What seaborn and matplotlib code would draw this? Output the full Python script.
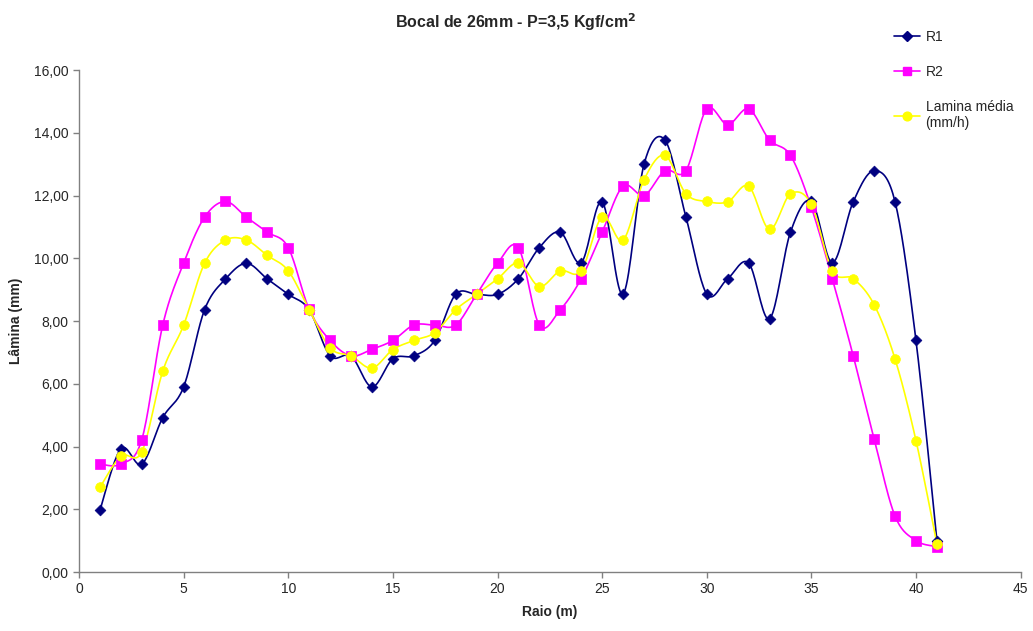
import numpy as np
import pandas as pd
import matplotlib
matplotlib.use("Agg")
import matplotlib.pyplot as plt
import seaborn as sns
from matplotlib.lines import Line2D
from matplotlib.ticker import FuncFormatter, MultipleLocator

# ================= dados =================
raio = list(range(1, 42))
r1 = [1.97, 3.93, 3.44, 4.92, 5.90, 8.36, 9.34, 9.84, 9.34, 8.85,
      8.36, 6.89, 6.89, 5.90, 6.80, 6.89, 7.38, 8.85, 8.85, 8.85,
      9.35, 10.34, 10.83, 9.86, 11.80, 8.86, 12.99, 13.77, 11.33, 8.86,
      9.35, 9.85, 8.07, 10.83, 11.82, 9.86, 11.80, 12.79, 11.80, 7.38,
      1.00]
r2 = [3.44, 3.44, 4.22, 7.87, 9.85, 11.31, 11.81, 11.31, 10.83, 10.34,
      8.37, 7.38, 6.89, 7.10, 7.38, 7.87, 7.87, 7.87, 8.85, 9.84,
      10.34, 7.87, 8.36, 9.35, 10.83, 12.30, 12.00, 12.79, 12.79, 14.76,
      14.26, 14.76, 13.77, 13.28, 11.62, 9.35, 6.89, 4.24, 1.78, 1.00,
      0.81]
lamina = [2.70, 3.69, 3.83, 6.40, 7.87, 9.84, 10.58, 10.58, 10.09, 9.60,
          8.36, 7.14, 6.89, 6.50, 7.09, 7.38, 7.63, 8.36, 8.85, 9.34,
          9.85, 9.10, 9.60, 9.60, 11.32, 10.58, 12.50, 13.28, 12.06, 11.81,
          11.80, 12.30, 10.92, 12.05, 11.72, 9.60, 9.35, 8.52, 6.79, 4.19,
          0.90]
series_names = ["R1", "R2", "Lamina média\n(mm/h)"]
series_colors = ["#000080", "#FF00FF", "#FFFF00"]
series_markers = ["D", "s", "o"]
series_msize = [5.5, 7, 7]
# ========================================


def smooth(x, y, n=20):
    """curva suavizada estilo Excel (Catmull-Rom)"""
    x = np.asarray(x, float)
    y = np.asarray(y, float)
    px = np.concatenate([[x[0]], x, [x[-1]]])
    py = np.concatenate([[y[0]], y, [y[-1]]])
    xs, ys = [], []
    for i in range(1, len(px) - 2):
        p0, p1, p2, p3 = (np.array([px[j], py[j]]) for j in (i - 1, i, i + 1, i + 2))
        c1 = p1 + (p2 - p0) / 6
        c2 = p2 - (p3 - p1) / 6
        t = np.linspace(0, 1, n)[:, None]
        b = ((1 - t) ** 3) * p1 + 3 * ((1 - t) ** 2) * t * c1 + 3 * (1 - t) * t ** 2 * c2 + t ** 3 * p2
        xs.extend(b[:, 0])
        ys.extend(b[:, 1])
    return np.array(xs), np.array(ys)


sns.set_style("white")
plt.rcParams["font.family"] = ["Liberation Sans", "DejaVu Sans"]

fig = plt.figure(figsize=(10.33, 6.31), dpi=100)
ax = fig.add_axes([0.0765, 0.0935, 0.9115, 0.7955])

handles = []
for name, vals, col, mk, ms in zip(series_names, [r1, r2, lamina], series_colors,
                                   series_markers, series_msize):
    sx, sy = smooth(raio, vals)
    curve = pd.DataFrame({"x": sx, "y": sy})
    sns.lineplot(data=curve, x="x", y="y", sort=False, estimator=None, color=col,
                 linewidth=1.2, ax=ax)
    pts = pd.DataFrame({"Raio": raio, "Lamina": vals})
    sns.scatterplot(data=pts, x="Raio", y="Lamina", marker=mk, color=col,
                    s=ms ** 2, edgecolor=col, linewidth=0.5, ax=ax, zorder=3)
    handles.append(Line2D([0], [0], color=col, marker=mk, markersize=ms * 0.9,
                          linewidth=1.2, label=name))

ax.set_xlim(0, 45)
ax.set_ylim(0, 16)
ax.xaxis.set_major_locator(MultipleLocator(5))
ax.yaxis.set_major_locator(MultipleLocator(2))
ax.yaxis.set_major_formatter(FuncFormatter(lambda v, p: f"{v:.2f}".replace(".", ",")))

for s in ["top", "right"]:
    ax.spines[s].set_visible(False)
for s in ["left", "bottom"]:
    ax.spines[s].set_color("#808080")
    ax.spines[s].set_linewidth(1.0)
ax.tick_params(axis="both", direction="out", length=4, width=1, color="#808080",
               labelsize=10, left=True, bottom=True)

ax.set_xlabel("Raio (m)", fontsize=10, fontweight="bold", labelpad=6)
ax.set_ylabel("Lâmina (mm)", fontsize=10, fontweight="bold", labelpad=8)
fig.text(0.499, 0.965, "Bocal de 26mm - P=3,5 Kgf/cm$^\\mathbf{2}$", ha="center",
         va="center", fontsize=11.5, fontweight="bold")

fig.legend(handles=handles, loc="upper left", bbox_to_anchor=(0.853, 0.972),
           frameon=False, fontsize=10, labelspacing=1.5, handlelength=1.9,
           handletextpad=0.4)

fig.savefig("out.png", dpi=100)
plt.close(fig)
